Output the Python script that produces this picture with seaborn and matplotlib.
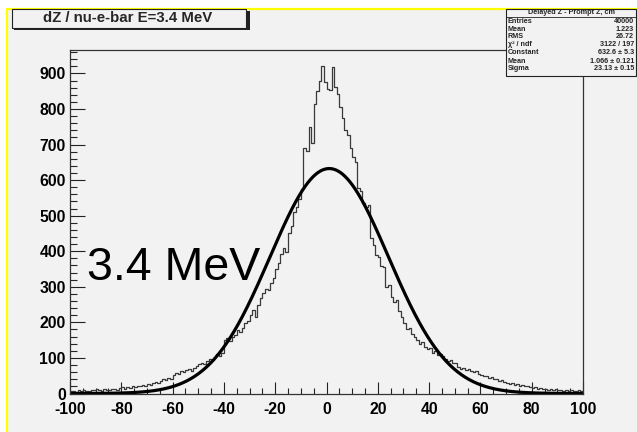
import numpy as np
import pandas as pd
import matplotlib
matplotlib.use("Agg")
import matplotlib.pyplot as plt
from matplotlib.patches import Rectangle
from matplotlib.ticker import MultipleLocator
import seaborn as sns

# dZ histogram: 200 bins of width 1 cm from -100 to 100 (counts per bin)
bin_edges = list(range(-100, 101))
counts = [
    6, 8, 5, 9, 7, 10, 8, 6, 11, 9,
    12, 10, 8, 13, 11, 9, 14, 12, 10, 15,
    17, 14, 19, 16, 21, 18, 22, 20, 24, 21,
    27, 24, 30, 33, 29, 36, 40, 38, 44, 42,
    52, 58, 55, 62, 60, 66, 70, 64, 73, 78,
    82, 86, 84, 92, 98, 95, 104, 110, 106, 114,
    150, 155, 148, 158, 165, 178, 172, 185, 198, 205,
    220, 236, 215, 250, 268, 282, 295, 290, 312, 325,
    350, 368, 392, 410, 398, 450, 470, 510, 525, 548,
    575, 690, 682, 750, 705, 815, 850, 880, 920, 875,
    855, 853, 918, 862, 841, 807, 775, 740, 728, 690,
    665, 652, 578, 570, 535, 525, 530, 437, 418, 390,
    385, 358, 355, 300, 305, 272, 258, 262, 232, 215,
    198, 182, 185, 168, 158, 150, 140, 145, 132, 125,
    128, 115, 120, 108, 112, 105, 98, 92, 95, 87,
    86, 75, 70, 72, 66, 68, 62, 60, 64, 56,
    52, 48, 50, 44, 46, 40, 42, 36, 38, 33,
    30, 27, 29, 24, 26, 22, 25, 20, 22, 18,
    16, 17, 14, 15, 12, 14, 11, 13, 10, 12,
    9, 11, 8, 10, 7, 9, 8, 6, 9, 7,
]

# Gaussian fit parameters
fit_constant = 632.6
fit_mean = 1.066
fit_sigma = 23.13

title_text = "dZ / nu-e-bar E=3.4 MeV"
stats_title = "Delayed Z - Prompt Z, cm"
stats_rows = [
    ("Entries", "40000"),
    ("Mean", "1.223"),
    ("RMS", "26.72"),
    ("χ² / ndf", "3122 / 197"),
    ("Constant", "632.6 ± 5.3"),
    ("Mean", "1.066 ± 0.121"),
    ("Sigma", "23.13 ± 0.15"),
]
energy_label = "3.4 MeV"
x_ticks = list(range(-100, 101, 20))
y_ticks = list(range(0, 1000, 100))

sns.set_style("ticks")
plt.rcParams["font.family"] = ["Liberation Sans", "DejaVu Sans"]
plt.rcParams["axes.unicode_minus"] = False

W, H = 637, 432
BG = "#f2f2f2"
fig = plt.figure(figsize=(W / 100, H / 100), dpi=100, facecolor="white")


def fx(px):
    return px / W


def fy(py):
    return 1 - py / H


# canvas area with its yellow top/left border
fig.patches.append(Rectangle((fx(7), 0), 1 - fx(7), fy(9), transform=fig.transFigure,
                             facecolor=BG, edgecolor="none", zorder=-10))
fig.add_artist(plt.Line2D([fx(7), fx(7)], [0, fy(9)], transform=fig.transFigure,
                          color="#ffff00", lw=1.6, zorder=1))
fig.add_artist(plt.Line2D([fx(7), 1], [fy(9), fy(9)], transform=fig.transFigure,
                          color="#ffff00", lw=1.6, zorder=1))

ax = fig.add_axes([fx(70), fy(393.5), fx(583) - fx(70), fy(50) - fy(393.5)])
ax.set_facecolor(BG)

df = pd.DataFrame({"dz": np.array(bin_edges[:-1]) + 0.5, "n": counts})
sns.histplot(data=df, x="dz", weights="n", bins=bin_edges, element="step",
             fill=False, color="#3a3a3a", linewidth=0.9, ax=ax)

xs = np.linspace(-100, 100, 801)
fit_df = pd.DataFrame({"x": xs,
                       "y": fit_constant * np.exp(-0.5 * ((xs - fit_mean) / fit_sigma) ** 2)})
sns.lineplot(data=fit_df, x="x", y="y", color="black", linewidth=2.3, ax=ax)

ax.set_xlim(-100, 100)
ax.set_ylim(0, 966)
ax.set_xlabel("")
ax.set_ylabel("")
ax.set_xticks(x_ticks)
ax.set_yticks(y_ticks)
ax.xaxis.set_minor_locator(MultipleLocator(5))
ax.yaxis.set_minor_locator(MultipleLocator(20))
ax.tick_params(axis="x", which="major", direction="in", length=9, width=0.8,
               pad=6, labelsize=11.3, colors="#222222")
ax.tick_params(axis="x", which="minor", direction="in", length=4.5, width=0.8)
ax.tick_params(axis="y", which="major", direction="in", length=11, width=0.8,
               pad=3, labelsize=11.3, colors="#222222")
ax.tick_params(axis="y", which="minor", direction="in", length=5, width=0.8)
for lab in ax.get_xticklabels() + ax.get_yticklabels():
    lab.set_fontweight("bold")
    lab.set_color("black")
for sp in ax.spines.values():
    sp.set_visible(True)
    sp.set_color("#333333")
    sp.set_linewidth(0.9)

ax.text(-93.4, 320, energy_label, fontsize=33.5, color="black", ha="left",
        va="baseline")

# title box with drop shadow
fig.patches.append(Rectangle((fx(14), fy(30)), fx(248) - fx(12), fy(9) - fy(28),
                             transform=fig.transFigure, facecolor="#222222",
                             edgecolor="none", zorder=2))
fig.patches.append(Rectangle((fx(12), fy(28)), fx(246) - fx(12), fy(9) - fy(28),
                             transform=fig.transFigure, facecolor=BG,
                             edgecolor="#222222", lw=0.8, zorder=3))
fig.text(fx(128), fy(18.5), title_text, fontsize=10.8, fontweight="bold",
         ha="center", va="center", zorder=4)

# statistics box
fig.patches.append(Rectangle((fx(506), fy(76)), fx(636) - fx(506), fy(9) - fy(76),
                             transform=fig.transFigure, facecolor=BG,
                             edgecolor="#222222", lw=0.8, zorder=3))
fig.add_artist(plt.Line2D([fx(506), fx(636)], [fy(17), fy(17)],
                          transform=fig.transFigure, color="#222222", lw=0.6,
                          zorder=4))
fig.text(fx(571), fy(13), stats_title, fontsize=5.2, fontweight="bold",
         ha="center", va="center", zorder=4)
row_y = [21.7, 29.3, 36.5, 44.5, 53, 61.2, 69]
for (lab, val), yy in zip(stats_rows, row_y):
    fig.text(fx(508), fy(yy), lab, fontsize=5.2, fontweight="bold",
             ha="left", va="center", zorder=4)
    fig.text(fx(634), fy(yy), val, fontsize=5.2, fontweight="bold",
             ha="right", va="center", zorder=4)

fig.savefig("out.png", dpi=100, facecolor="white")
